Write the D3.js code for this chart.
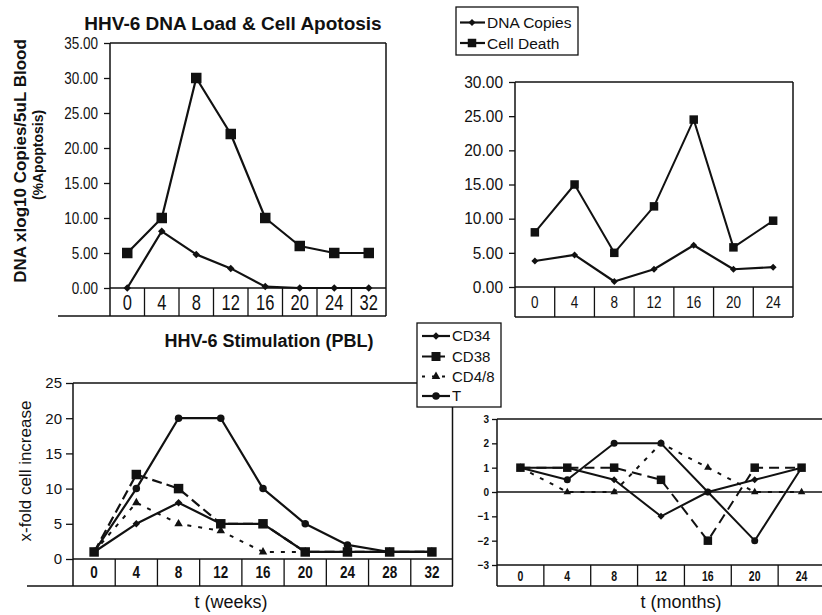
<!DOCTYPE html>
<html>
<head>
<meta charset="utf-8">
<script src="https://cdn.jsdelivr.net/npm/d3@7"></script>
<style>
  body { margin: 0; background: #fff; }
  svg { display: block; }
  text { font-family: "Liberation Sans", Arial, Helvetica, sans-serif; fill: #111; }
</style>
</head>
<body>
<svg id="chart" width="822" height="615"></svg>
<script>
// ---- Panel A: HHV-6 DNA load & cell apoptosis (weeks) ----
const weeksA = ["0", "4", "8", "12", "16", "20", "24", "32"];
const dnaCopiesA = [0, 8.1, 4.8, 2.8, 0.2, 0, 0, 0];
const cellDeathA = [5, 10, 30, 22, 10, 6, 5, 5];
const ticksA = [0, 5, 10, 15, 20, 25, 30, 35];

// ---- Panel B: DNA load & cell apoptosis (months) ----
const monthsB = ["0", "4", "8", "12", "16", "20", "24"];
const dnaCopiesB = [3.8, 4.7, 0.8, 2.6, 6.1, 2.6, 2.9];
const cellDeathB = [8, 15, 5, 11.8, 24.5, 5.8, 9.7];
const ticksB = [0, 5, 10, 15, 20, 25, 30];

// ---- Panel C: HHV-6 stimulation of PBL (weeks) ----
const weeksC = ["0", "4", "8", "12", "16", "20", "24", "28", "32"];
const cd34C = [1, 5, 8, 5, 5, 1, 1, 1, 1];
const cd38C = [1, 12, 10, 5, 5, 1, 1, 1, 1];
const cd48C = [1, 8, 5, 4, 1, 1, 1, 1, 1];
const tC = [1, 10, 20, 20, 10, 5, 2, 1, 1];
const ticksC = [0, 5, 10, 15, 20, 25];

// ---- Panel D: stimulation (months) ----
const monthsD = ["0", "4", "8", "12", "16", "20", "24"];
const cd34D = [1, 1, 0.5, -1, 0, 0.5, 1];
const cd38D = [1, 1, 1, 0.5, -2, 1, 1];
const cd48D = [1, 0, 0, 2, 1, 0, 0];
const tD = [1, 0.5, 2, 2, 0, -2, 1];
const ticksD = [-3, -2, -1, 0, 1, 2, 3];

const INK = "#111";
const svg = d3.select("#chart");

function markerPath(type, size) {
  if (type === "square") return d3.symbol(d3.symbolSquare, size * size)();
  if (type === "circle") return d3.symbol(d3.symbolCircle, Math.PI * (size / 2) ** 2)();
  if (type === "triangle") return d3.symbol(d3.symbolTriangle, size * size * 0.433)();
  const r = size / 2; // diamond: a square turned 45°
  return `M0,${-r}L${r},0L0,${r}L${-r},0Z`;
}

function hline(g, x1, x2, y, w = 1.5) {
  g.append("line").attr("x1", x1).attr("x2", x2).attr("y1", y).attr("y2", y)
    .attr("stroke", INK).attr("stroke-width", w);
}
function vline(g, x, y1, y2, w = 1.5) {
  g.append("line").attr("x1", x).attr("x2", x).attr("y1", y1).attr("y2", y2)
    .attr("stroke", INK).attr("stroke-width", w);
}

function panel(cfg) {
  const g = svg.append("g");
  const x = d3.scaleBand().domain(cfg.cats).range([cfg.left, cfg.right]).padding(0);
  const y = d3.scaleLinear().domain(cfg.yDomain).range([cfg.axisY, cfg.top]);
  const cx = i => x(cfg.cats[i]) + x.bandwidth() / 2;

  // value axis (labels slightly tall, as in the printed figure)
  const ax = g.append("g").attr("transform", `translate(${cfg.left},0)`)
    .call(d3.axisLeft(y).tickValues(cfg.ticks).tickFormat(cfg.fmt)
      .tickSize(cfg.tickSize).tickPadding(cfg.tickPad).tickSizeOuter(0));
  ax.select(".domain").remove();
  ax.selectAll("line").attr("stroke", INK).attr("stroke-width", 1.3);
  ax.selectAll("text").attr("fill", INK)
    .attr("transform", `scale(1,${cfg.tickStretch || 1})`)
    .style("font-family", '"Liberation Sans", Arial, sans-serif')
    .style("font-size", cfg.tickFont + "px")
    .style("font-weight", cfg.tickWeight || "normal");

  // category table under the plot
  g.selectAll(null).data(cfg.cats.slice(1)).join("line")
    .attr("x1", d => x(d)).attr("x2", d => x(d))
    .attr("y1", cfg.axisY).attr("y2", cfg.tableBot)
    .attr("stroke", INK).attr("stroke-width", 1.3);
  const midY = (cfg.axisY + cfg.tableBot) / 2;
  g.selectAll(null).data(cfg.cats).join("text")
    .attr("transform", d => `translate(${x(d) + x.bandwidth() / 2},${midY}) scale(1,${cfg.catStretch || 1})`)
    .attr("dy", "0.36em").attr("text-anchor", "middle")
    .style("font-size", cfg.catFont + "px")
    .style("font-weight", cfg.catWeight || "normal")
    .text(d => d);
  hline(g, cfg.left, cfg.right, cfg.axisY, 1.6);

  // series
  cfg.series.forEach(s => {
    const line = d3.line().x((d, i) => cx(i)).y(d => y(d));
    g.append("path").datum(s.values).attr("d", line)
      .attr("fill", "none").attr("stroke", INK)
      .attr("stroke-width", s.width).attr("stroke-linejoin", "round")
      .attr("stroke-dasharray", s.dash || null);
    g.selectAll(null).data(s.values).join("path")
      .attr("d", markerPath(s.marker, s.size))
      .attr("transform", (d, i) => `translate(${cx(i)},${y(d)})`)
      .attr("fill", INK);
  });
  return { g, x, y };
}

// ===== Panel A =====
const A = panel({
  cats: weeksA, left: 110, right: 386, top: 43, axisY: 288, tableBot: 316,
  yDomain: [0, 35], ticks: ticksA, fmt: d3.format(".2f"),
  tickSize: 6, tickPad: 6, tickFont: 13.5, tickStretch: 1.2,
  catFont: 16.5, catStretch: 1.3,
  series: [
    { values: dnaCopiesA, marker: "diamond", size: 7.5, width: 2.2 },
    { values: cellDeathA, marker: "square", size: 10.5, width: 2.2 }
  ]
});
hline(A.g, 110, 386, 43);
vline(A.g, 110, 43, 316);
vline(A.g, 386, 43, 316);
hline(A.g, 58, 386, 316, 1.6);

svg.append("text").attr("x", 233).attr("y", 30).attr("text-anchor", "middle")
  .style("font-size", "19px").style("font-weight", "bold")
  .text("HHV-6 DNA Load & Cell Apotosis");
svg.append("text").attr("transform", "translate(26,161) rotate(-90)")
  .attr("text-anchor", "middle").style("font-size", "17px").style("font-weight", "bold")
  .text("DNA xlog10 Copies/5uL Blood");
svg.append("text").attr("transform", "translate(43,155) rotate(-90)")
  .attr("text-anchor", "middle").style("font-size", "14px").style("font-weight", "bold")
  .text("(%Apoptosis)");

// ===== Panel B =====
const B = panel({
  cats: monthsB, left: 515, right: 793, top: 82, axisY: 287, tableBot: 317,
  yDomain: [0, 30], ticks: ticksB, fmt: d3.format(".2f"),
  tickSize: 6, tickPad: 6, tickFont: 15.5, tickStretch: 1.05,
  catFont: 13.5, catStretch: 1.25,
  series: [
    { values: dnaCopiesB, marker: "diamond", size: 7, width: 2.2 },
    { values: cellDeathB, marker: "square", size: 8.5, width: 2 }
  ]
});
hline(B.g, 515, 793, 82);
vline(B.g, 515, 82, 317);
vline(B.g, 793, 82, 317);
hline(B.g, 515, 793, 317, 1.6);

// legend for panels A/B
const legAB = svg.append("g");
legAB.append("rect").attr("x", 456).attr("y", 7).attr("width", 122).attr("height", 48)
  .attr("fill", "#fff").attr("stroke", INK).attr("stroke-width", 1.3);
[
  { label: "DNA Copies", marker: "diamond", size: 7, y: 22.5 },
  { label: "Cell Death", marker: "square", size: 8.5, y: 43 }
].forEach(e => {
  hline(legAB, 460, 485, e.y, 2.2);
  legAB.append("path").attr("d", markerPath(e.marker, e.size))
    .attr("transform", `translate(472,${e.y})`).attr("fill", INK);
  legAB.append("text").attr("x", 487).attr("y", e.y).attr("dy", "0.36em")
    .style("font-size", "15.5px").text(e.label);
});

// ===== Panel C =====
const dashC = "10,5", dotC = "4,7";
const C = panel({
  cats: weeksC, left: 73, right: 453, top: 383, axisY: 559, tableBot: 586,
  yDomain: [0, 25], ticks: ticksC, fmt: d3.format("d"),
  tickSize: 7, tickPad: 4, tickFont: 15,
  catFont: 13.5, catWeight: "bold", catStretch: 1.2,
  series: [
    { values: cd48C, marker: "triangle", size: 8.5, width: 2, dash: dotC },
    { values: cd38C, marker: "square", size: 9.5, width: 2.2, dash: dashC },
    { values: cd34C, marker: "diamond", size: 7.5, width: 2.2 },
    { values: tC, marker: "circle", size: 7.5, width: 2.2 }
  ]
});
hline(C.g, 73, 417, 383);
vline(C.g, 73, 383, 586);
vline(C.g, 452.5, 407, 586);
hline(C.g, 27, 453, 586, 1.6);

svg.append("text").attr("x", 269).attr("y", 347).attr("text-anchor", "middle")
  .style("font-size", "18px").style("font-weight", "bold")
  .text("HHV-6 Stimulation (PBL)");
svg.append("text").attr("transform", "translate(31,471) rotate(-90)")
  .attr("text-anchor", "middle").style("font-size", "17px")
  .text("x-fold cell increase");
svg.append("text").attr("x", 231).attr("y", 608).attr("text-anchor", "middle")
  .style("font-size", "18px").text("t (weeks)");

// legend for panels C/D
const legC = svg.append("g");
legC.append("rect").attr("x", 417).attr("y", 323).attr("width", 84).attr("height", 84)
  .attr("fill", "#fff").attr("stroke", INK).attr("stroke-width", 1.3);
[
  { label: "CD34", marker: "diamond", size: 7.5, y: 336, dash: null },
  { label: "CD38", marker: "square", size: 9, y: 356.5, dash: "11,7,5,20" },
  { label: "CD4/8", marker: "triangle", size: 8.5, y: 376.5, dash: "3,7" },
  { label: "T", marker: "circle", size: 7.5, y: 396, dash: null }
].forEach(e => {
  legC.append("line").attr("x1", 422).attr("x2", 450).attr("y1", e.y).attr("y2", e.y)
    .attr("stroke", INK).attr("stroke-width", 2.2).attr("stroke-dasharray", e.dash);
  legC.append("path").attr("d", markerPath(e.marker, e.size))
    .attr("transform", `translate(436,${e.y})`).attr("fill", INK);
  legC.append("text").attr("x", 452).attr("y", e.y).attr("dy", "0.36em")
    .style("font-size", "15px").text(e.label);
});

// ===== Panel D =====
const D = panel({
  cats: monthsD, left: 497, right: 825, top: 419, axisY: 565, tableBot: 586,
  yDomain: [-3, 3], ticks: ticksD, fmt: d3.format("d"),
  tickSize: 5, tickPad: 3, tickFont: 10, tickWeight: "bold", tickStretch: 1.1,
  catFont: 10.5, catWeight: "bold", catStretch: 1.35,
  series: [
    { values: cd48D, marker: "triangle", size: 7.5, width: 2, dash: "4,7" },
    { values: cd38D, marker: "square", size: 8.5, width: 2, dash: "10,6" },
    { values: cd34D, marker: "diamond", size: 7, width: 2 },
    { values: tD, marker: "circle", size: 7, width: 2 }
  ]
});
hline(D.g, 497, 822, 419);
vline(D.g, 497, 419, 586);
hline(D.g, 497, 822, D.y(0), 1.4);
hline(D.g, 497, 822, 586, 1.6);

svg.append("text").attr("x", 681).attr("y", 608).attr("text-anchor", "middle")
  .style("font-size", "18px").text("t (months)");
</script>
</body>
</html>
